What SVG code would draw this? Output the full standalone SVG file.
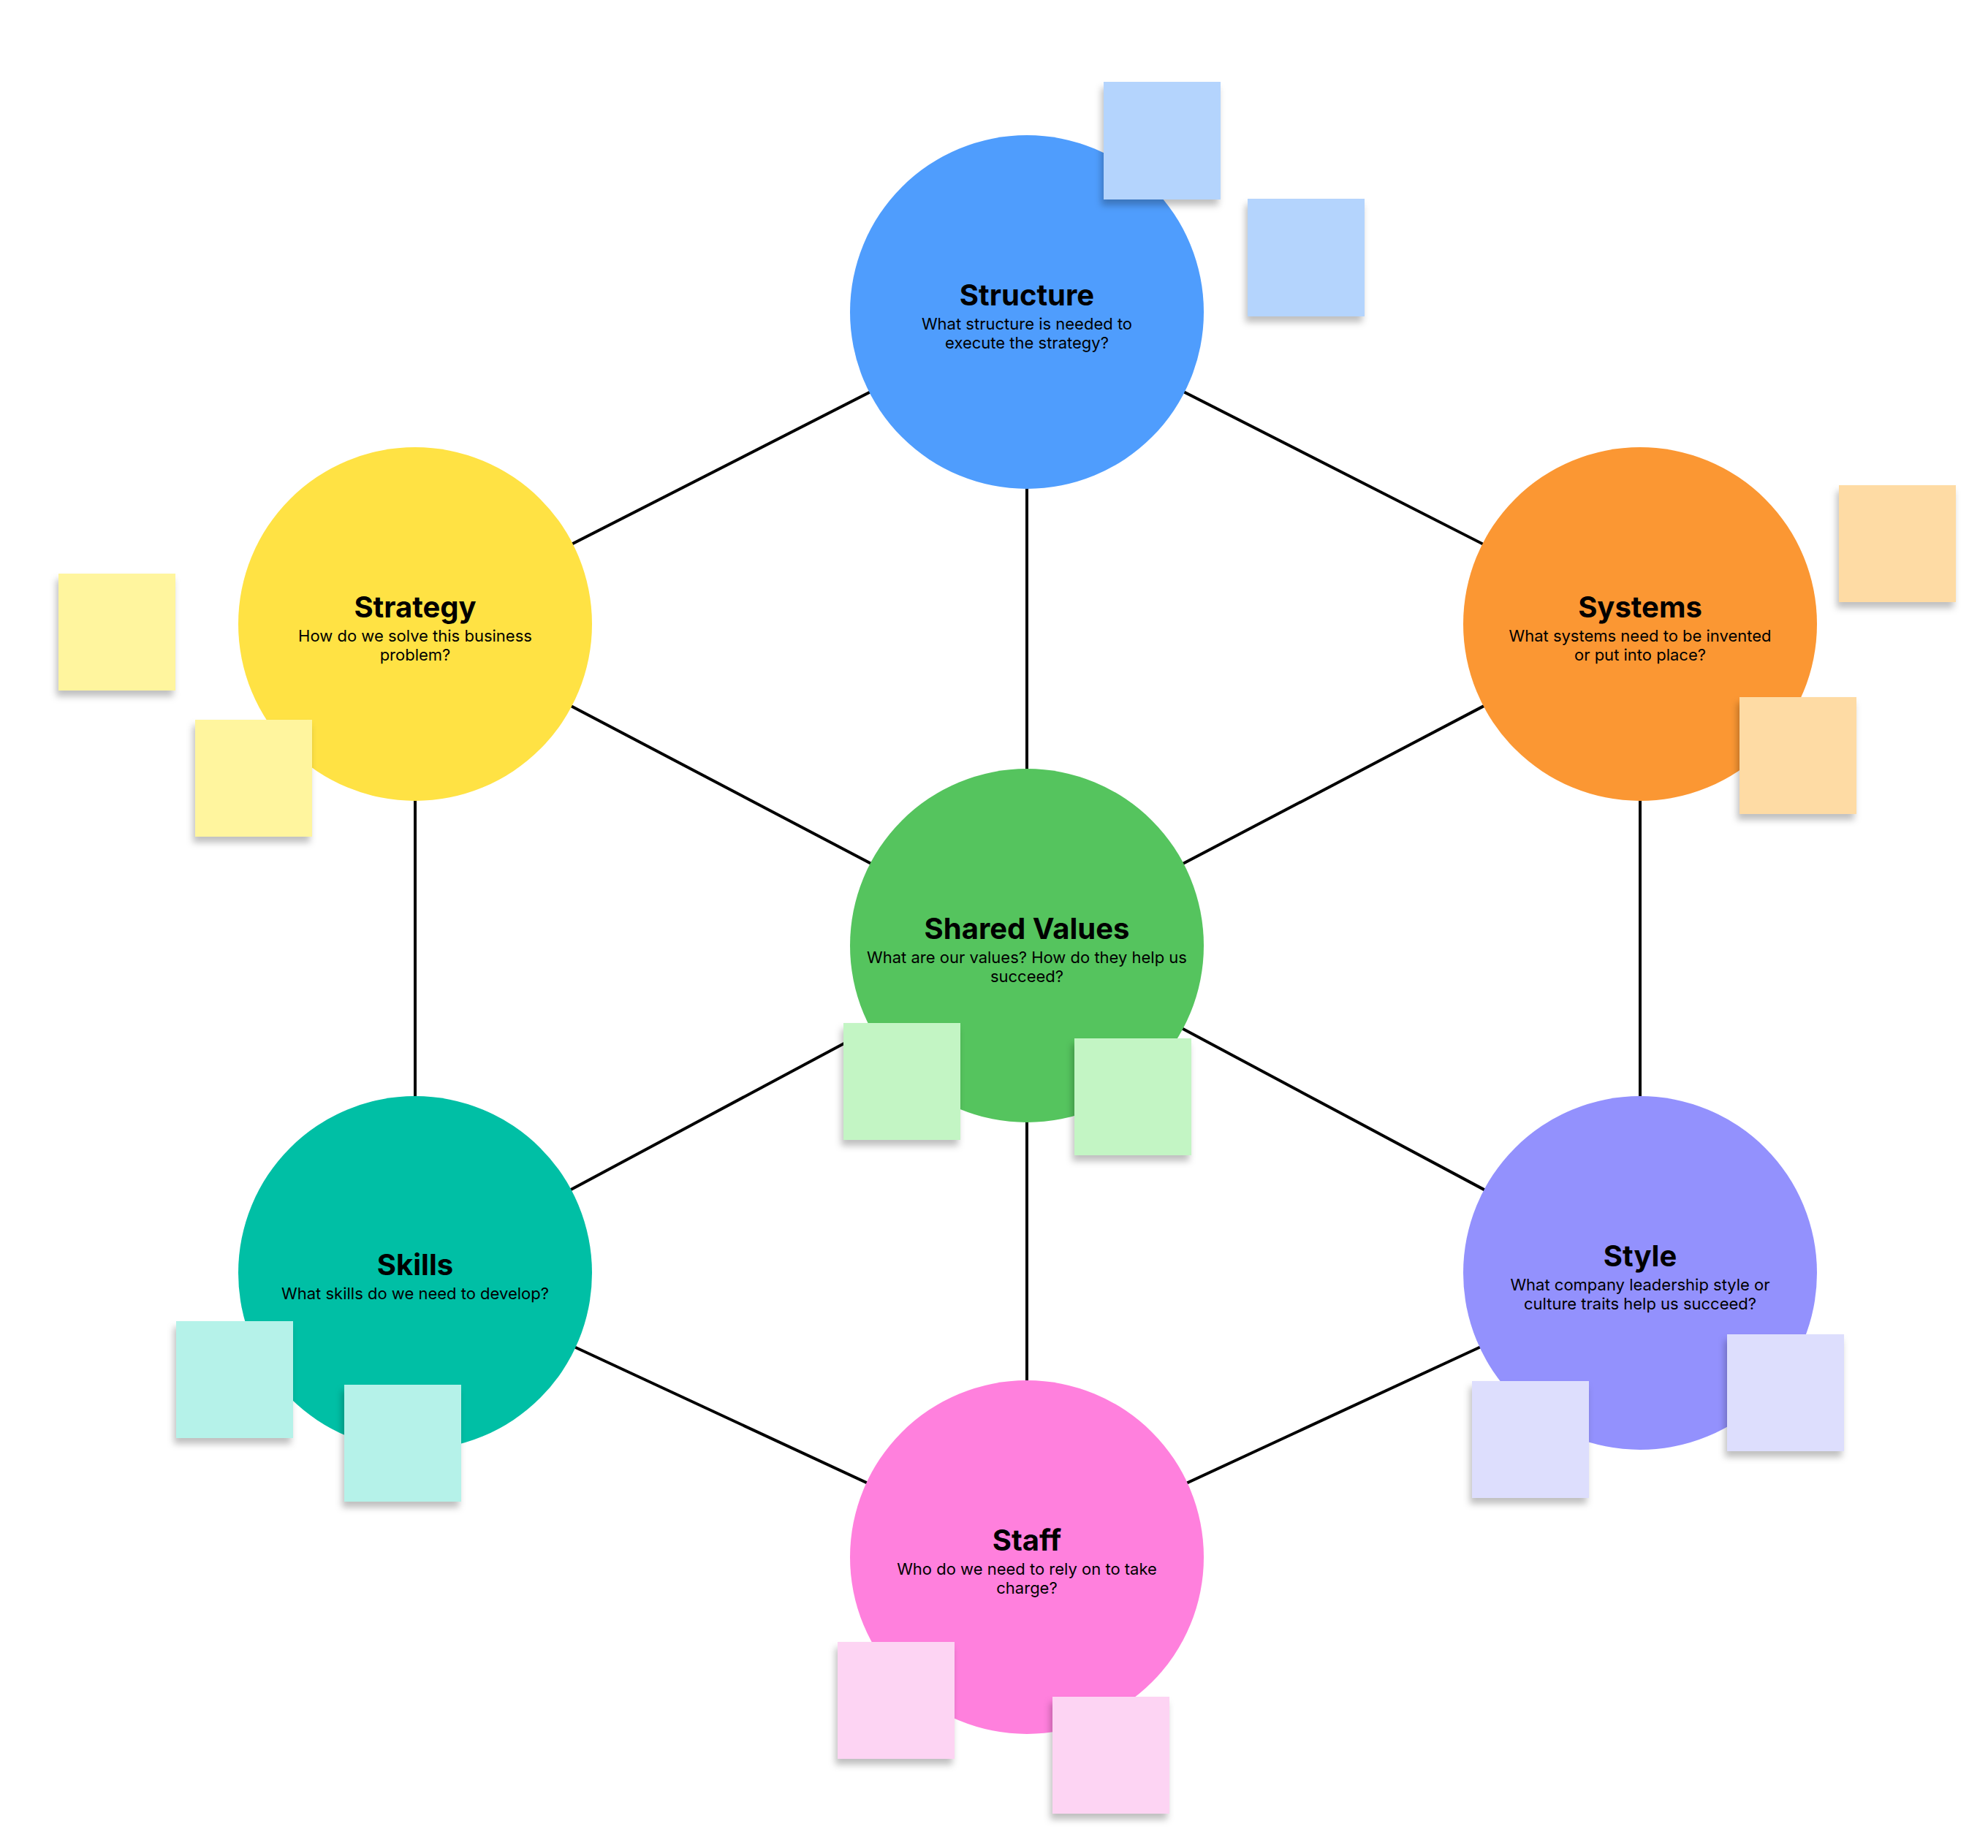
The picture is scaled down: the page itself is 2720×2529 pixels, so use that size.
<svg xmlns="http://www.w3.org/2000/svg" width="2720" height="2529" viewBox="0 0 2720 2529">
<defs>
<filter id="sh" x="-20%" y="-20%" width="150%" height="150%"><feDropShadow dx="-3" dy="8" stdDeviation="5" flood-color="#000" flood-opacity="0.25"/></filter>
<style>
.t{font-family:Inter,"Liberation Sans",sans-serif;font-weight:700;font-size:40px;text-anchor:middle;fill:#000}
.d{font-family:Inter,"Liberation Sans",sans-serif;font-size:22px;text-anchor:middle;fill:#000}
.c line{stroke:#000;stroke-width:4}
.s{filter:url(#sh)}
</style>
</defs>
<rect width="2720" height="2529" fill="#fff"/>
<g id="connectors" class="c">
<line x1="1405" y1="427" x2="568" y2="854"/>
<line x1="1405" y1="427" x2="2244" y2="854"/>
<line x1="1405" y1="427" x2="1405" y2="1294"/>
<line x1="568" y1="854" x2="1405" y2="1294"/>
<line x1="2244" y1="854" x2="1405" y2="1294"/>
<line x1="568" y1="854" x2="568" y2="1742"/>
<line x1="2244" y1="854" x2="2244" y2="1742"/>
<line x1="1405" y1="1294" x2="568" y2="1742"/>
<line x1="1405" y1="1294" x2="2244" y2="1742"/>
<line x1="1405" y1="1294" x2="1405" y2="2131"/>
<line x1="568" y1="1742" x2="1405" y2="2131"/>
<line x1="2244" y1="1742" x2="1405" y2="2131"/>
</g>
<g id="structure"><circle cx="1405" cy="427" r="242" fill="#4f9dfd"/>
<text class="t" x="1405" y="418">Structure</text><text class="d" x="1405" y="451">What structure is needed to</text><text class="d" x="1405" y="477">execute the strategy?</text></g>
<g id="strategy"><circle cx="568" cy="854" r="242" fill="#ffe244"/>
<text class="t" x="568" y="845">Strategy</text><text class="d" x="568" y="878">How do we solve this business</text><text class="d" x="568" y="904">problem?</text></g>
<g id="systems"><circle cx="2244" cy="854" r="242" fill="#fb9733"/>
<text class="t" x="2244" y="845">Systems</text><text class="d" x="2244" y="878">What systems need to be invented</text><text class="d" x="2244" y="904">or put into place?</text></g>
<g id="shared-values"><circle cx="1405" cy="1294" r="242" fill="#55c45e"/>
<text class="t" x="1405" y="1285">Shared Values</text><text class="d" x="1405" y="1318">What are our values? How do they help us</text><text class="d" x="1405" y="1344">succeed?</text></g>
<g id="skills"><circle cx="568" cy="1742" r="242" fill="#00bfa5"/>
<text class="t" x="568" y="1745">Skills</text><text class="d" x="568" y="1778">What skills do we need to develop?</text></g>
<g id="style"><circle cx="2244" cy="1742" r="242" fill="#9391fd"/>
<text class="t" x="2244" y="1733">Style</text><text class="d" x="2244" y="1766">What company leadership style or</text><text class="d" x="2244" y="1792">culture traits help us succeed?</text></g>
<g id="staff"><circle cx="1405" cy="2131" r="242" fill="#ff80dd"/>
<text class="t" x="1405" y="2122">Staff</text><text class="d" x="1405" y="2155">Who do we need to rely on to take</text><text class="d" x="1405" y="2181">charge?</text></g>
<g id="stickies" class="s">
<rect x="1510" y="112" width="160" height="161" fill="#b4d4fd"/>
<rect x="1707" y="272" width="160" height="161" fill="#b4d4fd"/>
<rect x="80" y="785" width="160" height="160" fill="#fff59e"/>
<rect x="267" y="985" width="160" height="160" fill="#fff59e"/>
<rect x="2516" y="664" width="160" height="160" fill="#fedba4"/>
<rect x="2380" y="954" width="160" height="160" fill="#fedba4"/>
<rect x="1154" y="1400" width="160" height="160" fill="#c3f5c4"/>
<rect x="1470" y="1421" width="160" height="160" fill="#c3f5c4"/>
<rect x="241" y="1808" width="160" height="160" fill="#b5f2e9"/>
<rect x="471" y="1895" width="160" height="160" fill="#b5f2e9"/>
<rect x="2363" y="1826" width="160" height="160" fill="#dddefd"/>
<rect x="2014" y="1890" width="160" height="160" fill="#dddefd"/>
<rect x="1146" y="2247" width="160" height="160" fill="#fdd4f3"/>
<rect x="1440" y="2322" width="160" height="160" fill="#fdd4f3"/>
</g>
</svg>
